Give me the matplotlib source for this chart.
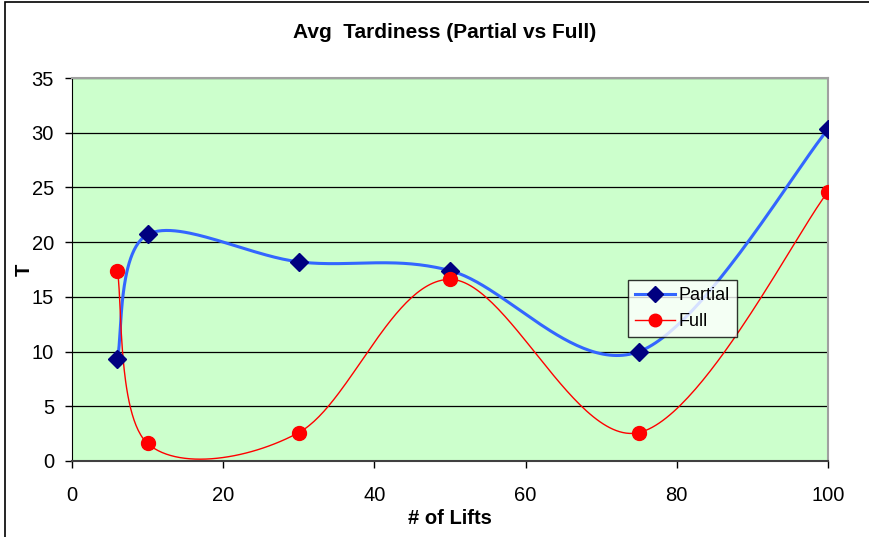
import numpy as np
import matplotlib
matplotlib.use("Agg")
import matplotlib.pyplot as plt
from matplotlib.patches import Rectangle

plt.rcParams['font.family'] = ['Liberation Sans', 'DejaVu Sans']

# Data
lifts = [6, 10, 30, 50, 75, 100]
partial = [9.3, 20.7, 18.2, 17.4, 10.0, 30.3]
full = [17.4, 1.6, 2.6, 16.6, 2.6, 24.6]


# Excel-style smoothed line: Catmull-Rom converted to cubic Bezier segments.
def smooth(xs, ys, n=60):
	xs = np.asarray(xs, float)
	ys = np.asarray(ys, float)
	px = np.concatenate([[xs[0]], xs, [xs[-1]]])
	py = np.concatenate([[ys[0]], ys, [ys[-1]]])
	outx, outy = [], []
	t = np.linspace(0, 1, n)
	for i in range(1, len(px) - 2):
		x0, y0 = px[i], py[i]
		x3, y3 = px[i + 1], py[i + 1]
		x1 = x0 + (px[i + 1] - px[i - 1]) / 6
		y1 = y0 + (py[i + 1] - py[i - 1]) / 6
		x2 = x3 - (px[i + 2] - px[i]) / 6
		y2 = y3 - (py[i + 2] - py[i]) / 6
		b0 = (1 - t) ** 3
		b1 = 3 * (1 - t) ** 2 * t
		b2 = 3 * (1 - t) * t ** 2
		b3 = t ** 3
		outx.extend(b0 * x0 + b1 * x1 + b2 * x2 + b3 * x3)
		outy.extend(b0 * y0 + b1 * y1 + b2 * y2 + b3 * y3)
	return outx, outy


fig = plt.figure(figsize=(8.7, 5.37), dpi=100)
ax = fig.add_axes([72 / 870, 1 - 461 / 537, (828 - 72) / 870, (461 - 78) / 537])

# outer chart frame
fig.patches.append(Rectangle((5 / 870, -0.05), 1.2, 1 - 2 / 537 + 0.05, transform=fig.transFigure,
	fill=False, edgecolor='black', linewidth=1.2))

ax.set_facecolor('#CCFFCC')
ax.set_xlim(0, 100)
ax.set_ylim(0, 35)
ax.set_xticks(range(0, 101, 20))
ax.set_yticks(range(0, 36, 5))
ax.grid(True, axis='y', color='black', linewidth=0.9)
ax.set_axisbelow(True)

for side in ['top', 'right']:
	ax.spines[side].set_color('#A0A0A0')
	ax.spines[side].set_linewidth(1.5)
ax.spines['left'].set_color('black')
ax.spines['bottom'].set_color('#404040')
ax.spines['bottom'].set_linewidth(1.5)
ax.tick_params(direction='out', length=5, width=1, labelsize=14.5)
ax.tick_params(axis='x', pad=13)
ax.tick_params(axis='y', pad=8)

sx, sy = smooth(lifts, partial)
ax.plot(sx, sy, color='#3366FF', linewidth=2.2, zorder=3)
ax.plot(lifts, partial, linestyle='none', marker='D', markersize=9, color='#000080', zorder=4)

fx, fy = smooth(lifts, full)
ax.plot(fx, fy, color='#FF0000', linewidth=1.0, zorder=3)
ax.plot(lifts, full, linestyle='none', marker='o', markersize=10, color='#FF0000', zorder=4)

# legend proxies
ax.plot([], [], color='#3366FF', linewidth=2.2, marker='D', markersize=8,
	markerfacecolor='#000080', markeredgecolor='#000080', label='Partial')
ax.plot([], [], color='#FF0000', linewidth=1.0, marker='o', markersize=9, label='Full')
handles, labels = ax.get_legend_handles_labels()
leg = ax.legend(handles[-2:], labels[-2:], loc='upper left',
	bbox_to_anchor=((628 - 72) / 756, 1 - (280 - 78) / 383),
	fontsize=13, frameon=True, fancybox=False, borderpad=0.4,
	handlelength=2.2, handletextpad=0.2, labelspacing=0.5, borderaxespad=0)
leg.get_frame().set_edgecolor('black')
leg.get_frame().set_facecolor('white')
leg.get_frame().set_linewidth(1.0)

fig.text(445 / 870, 1 - 32 / 537, 'Avg  Tardiness (Partial vs Full)', fontsize=15,
	fontweight='bold', ha='center', va='center')
ax.set_xlabel('# of Lifts', fontsize=14.5, fontweight='bold')
ax.xaxis.set_label_coords(0.5, -(509 - 461) / 383)
ax.set_ylabel('T', fontsize=14.5, fontweight='bold')
ax.yaxis.set_label_coords(-(72 - 34) / 756, 0.5)

fig.savefig('out.png', dpi=100)
